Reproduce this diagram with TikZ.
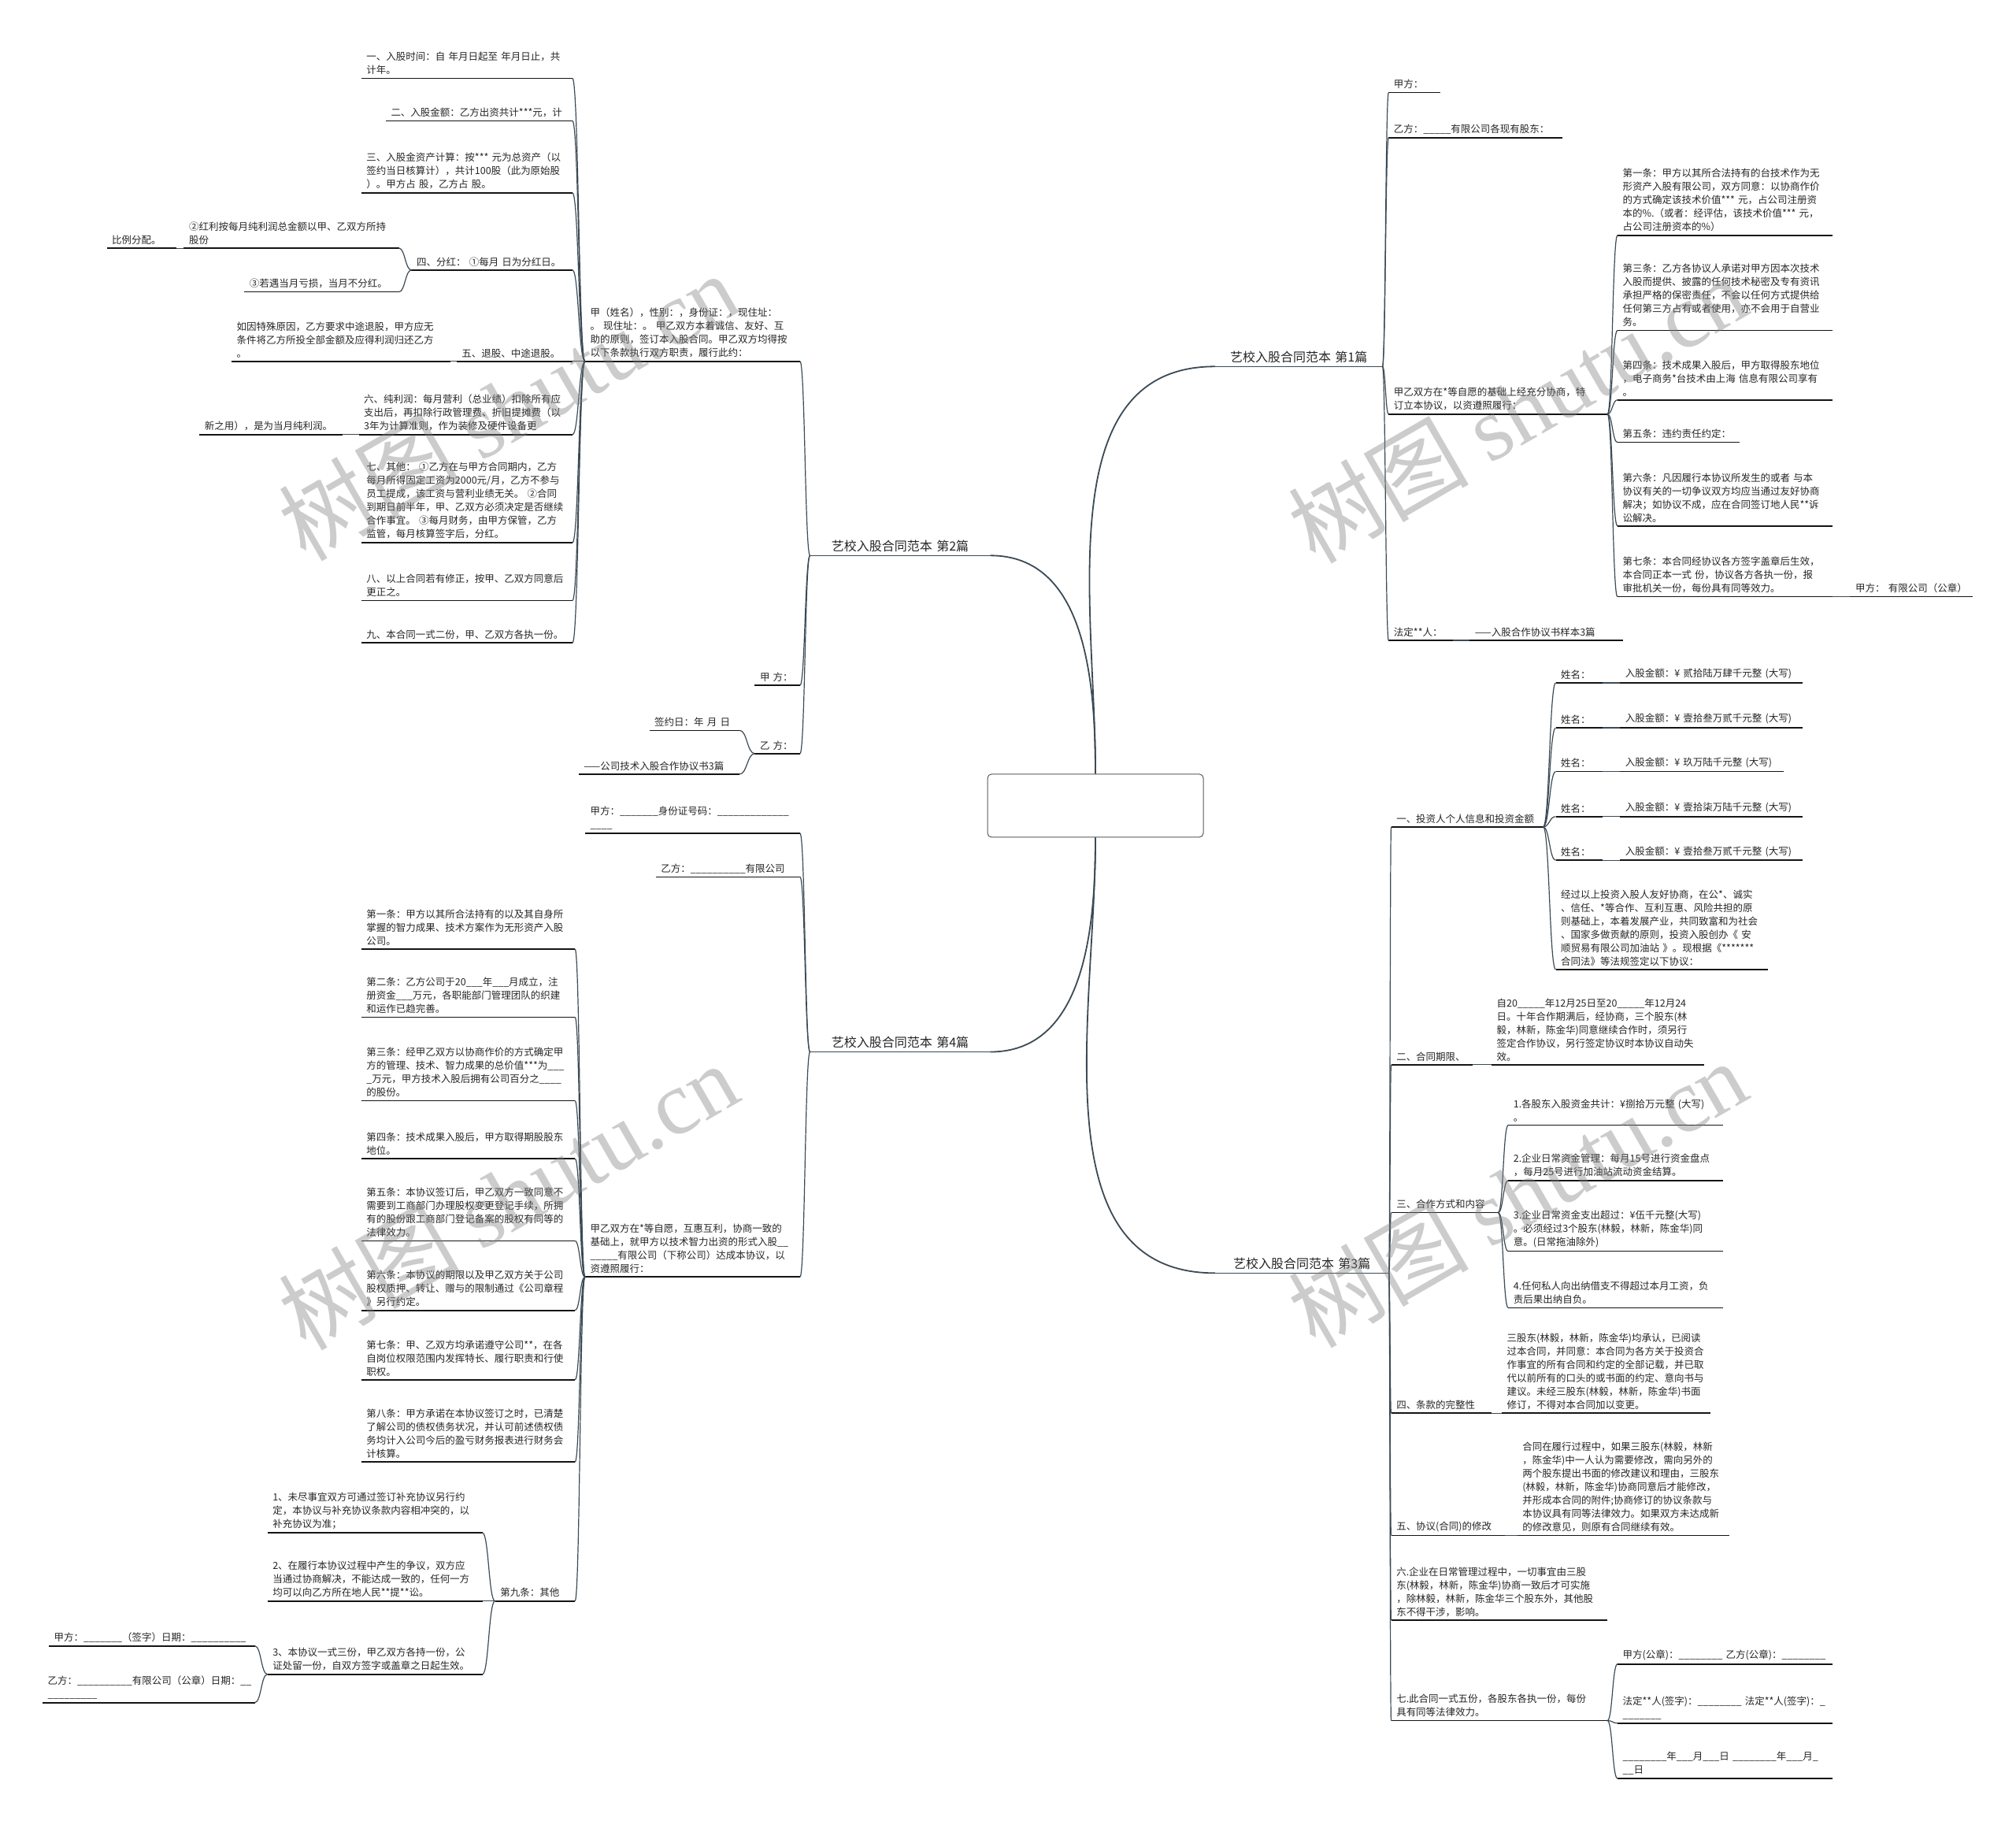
\documentclass[tikz,border=0pt]{standalone}
\usepackage{fontspec}
\setmainfont{Noto Sans CJK SC}
\newfontfamily\wmlatin{Liberation Serif}
\usepackage{xcolor}
\usetikzlibrary{calc}
\definecolor{ink}{HTML}{262626}
\definecolor{branch}{HTML}{3B4A55}
\definecolor{rulecol}{HTML}{141414}
\definecolor{boxline}{HTML}{5A5A5A}
\newcommand\leaffont{\fontsize{12.5pt}{17pt}\selectfont}
\newcommand\topicfont{\fontsize{16pt}{20pt}\selectfont}
\ExplSyntaxOn
\cs_new:Npn \blanks #1 {\prg_replicate:nn {#1} {\textunderscore}}
\ExplSyntaxOff

\begin{document}
\begin{tikzpicture}[
    x=1.633pt, y=-1.633pt,
    item/.style={
      font=\leaffont,
      text=ink,
      align=left,
      anchor=south west,
      inner xsep=6.5pt,
      inner ysep=4.5pt,
      /utils/exec={\pgfmathsetmacro\itemw{#1*1.633-13}},
      text width=\itemw pt
    },
    leaf/.style={item=#1,
      append after command={(\tikzlastnode.south west) edge[uline] (\tikzlastnode.south east)}},
    topic/.style={item=#1, font=\topicfont, align=center,
      append after command={(\tikzlastnode.south west) edge[tline] (\tikzlastnode.south east)}},
    uline/.style={draw=rulecol, line width=1.7pt},
    tline/.style={draw=branch, line width=1.1pt},
    link/.style={draw=branch, line width=1.2pt,
      to path={let \p1=(\tikztostart), \p2=(\tikztotarget) in
        .. controls ({(\x1+\x2)/2},\y1) and ({(\x1+\x2)/2},\y2) .. (\tikztotarget)}},
    trunk/.style={draw=branch, line width=1.8pt},
    rootbox/.style={draw=boxline, line width=1pt, fill=white, rounded corners=5pt,
      minimum width=274pt, minimum height=80pt},
    wmark/.style={text=gray, opacity=0.4, rotate=30, font=\fontsize{115pt}{115pt}\selectfont}
  ]
  \useasboundingbox (0,0) rectangle (1568,1416);
  \fill[white] (0,0) rectangle (1568,1416);

  \node[rootbox] (root) at (852,626.5) {};
  \node[topic=130] (b1) at (945,285) {艺校入股合同范本 第1篇};
  \node[topic=140] (b2) at (630,432) {艺校入股合同范本 第2篇};
  \node[topic=135] (b3) at (945,990) {艺校入股合同范本 第3篇};
  \node[topic=140] (b4) at (630,818) {艺校入股合同范本 第4篇};

  \node[leaf=167] (b2p) at (455,281) {甲（姓名），性别：，身份证：，现住址：\\。 现住址：。 甲乙双方本着诚信、友好、互\\助的原则，签订本入股合同。甲乙双方均得按\\以下条款执行双方职责，履行此约：};
  \node[leaf=35] (b2jia) at (587,533) {甲 方：};
  \node[leaf=35] (b2yi) at (587,586) {乙 方：};
  \node[leaf=70] (b2date) at (505,568) {签约日：年 月 日};
  \node[leaf=125] (b2more) at (450,602) {——公司技术入股合作协议书3篇};
  \node[leaf=164] (b2c1) at (281,61) {一、入股时间：自 年月日起至 年月日止，共\\计年。};
  \node[leaf=145] (b2c2) at (300,94) {二、入股金额：乙方出资共计***元，计};
  \node[leaf=164] (b2c3) at (281,150) {三、入股金资产计算：按*** 元为总资产（以\\签约当日核算计），共计100股（此为原始股\\）。甲方占 股，乙方占 股。};
  \node[leaf=125] (b2c4) at (320,210) {四、分红： ①每月 日为分红日。};
  \node[leaf=90] (b2c5) at (355,281) {五、退股、中途退股。};
  \node[leaf=166] (b2c6) at (279,338) {六、纯利润：每月营利（总业绩）扣除所有应\\支出后，再扣除行政管理费、折旧提摊费（以\\3年为计算准则，作为装修及硬件设备更};
  \node[leaf=164] (b2c7) at (281,422) {七、其他： ①乙方在与甲方合同期内，乙方\\每月所得固定工资为2000元/月，乙方不参与\\员工提成，该工资与营利业绩无关。 ②合同\\到期日前半年，甲、乙双方必须决定是否继续\\合作事宜。 ③每月财务，由甲方保管，乙方\\监管，每月核算签字后，分红。};
  \node[leaf=164] (b2c8) at (281,467) {八、以上合同若有修正，按甲、乙双方同意后\\更正之。};
  \node[leaf=164] (b2c9) at (281,500) {九、本合同一式二份，甲、乙双方各执一份。};
  \node[leaf=167] (b2c4a) at (143,193) {②红利按每月纯利润总金额以甲、乙双方所持\\股份};
  \node[leaf=54] (b2c4aa) at (83,193) {比例分配。};
  \node[leaf=120] (b2c4b) at (190,227) {③若遇当月亏损，当月不分红。};
  \node[leaf=170] (b2c5a) at (180,281) {如因特殊原因，乙方要求中途退股，甲方应无\\条件将乙方所投全部金额及应得利润归还乙方\\。};
  \node[leaf=111] (b2c6a) at (155,338) {新之用），是为当月纯利润。};

  \node[leaf=167] (b4jia) at (455,648) {甲方：\blanks{7}身份证号码：\blanks{13}\\\blanks{4}};
  \node[leaf=112] (b4yi) at (510,682) {乙方：\blanks{10}有限公司};
  \node[leaf=167] (b4p) at (455,993) {甲乙双方在*等自愿，互惠互利，协商一致的\\基础上，就甲方以技术智力出资的形式入股\blanks{2}\\\blanks{5}有限公司（下称公司）达成本协议，以\\资遵照履行：};
  \node[leaf=166] (b4c1) at (281,738) {第一条：甲方以其所合法持有的以及其自身所\\掌握的智力成果、技术方案作为无形资产入股\\公司。};
  \node[leaf=166] (b4c2) at (281,791) {第二条：乙方公司于20\blanks{3}年\blanks{3}月成立，注\\册资金\blanks{3}万元，各职能部门管理团队的织建\\和运作已趋完善。};
  \node[leaf=166] (b4c3) at (281,856) {第三条：经甲乙双方以协商作价的方式确定甲\\方的管理、技术、智力成果的总价值***为\blanks{3}\\\blanks{1}万元，甲方技术入股后拥有公司百分之\blanks{4}\\的股份。};
  \node[leaf=166] (b4c4) at (281,901) {第四条：技术成果入股后，甲方取得期股股东\\地位。};
  \node[leaf=166] (b4c5) at (281,965) {第五条：本协议签订后，甲乙双方一致同意不\\需要到工商部门办理股权变更登记手续，所拥\\有的股份跟工商部门登记备案的股权有同等的\\法律效力。};
  \node[leaf=166] (b4c6) at (281,1019) {第六条：本协议的期限以及甲乙双方关于公司\\股权质押、转让、赠与的限制通过《公司章程\\》另行约定。};
  \node[leaf=166] (b4c7) at (281,1073) {第七条：甲、乙双方均承诺遵守公司**，在各\\自岗位权限范围内发挥特长、履行职责和行使\\职权。};
  \node[leaf=166] (b4c8) at (281,1137) {第八条：甲方承诺在本协议签订之时，已清楚\\了解公司的债权债务状况，并认可前述债权债\\务均计入公司今后的盈亏财务报表进行财务会\\计核算。};
  \node[leaf=62] (b4c9) at (385,1245) {第九条：其他};
  \node[leaf=167] (b4c9a) at (208,1192) {1、未尽事宜双方可通过签订补充协议另行约\\定，本协议与补充协议条款内容相冲突的，以\\补充协议为准；};
  \node[leaf=167] (b4c9b) at (208,1245) {2、在履行本协议过程中产生的争议，双方应\\当通过协商解决，不能达成一致的，任何一方\\均可以向乙方所在地人民**提**讼。};
  \node[leaf=167] (b4c9c) at (208,1302) {3、本协议一式三份，甲乙双方各持一份，公\\证处留一份，自双方签字或盖章之日起生效。};
  \node[leaf=160] (b4sa) at (38,1280) {甲方：\blanks{7}（签字）日期：\blanks{10}};
  \node[leaf=165] (b4sb) at (33,1324) {乙方：\blanks{10}有限公司（公章）日期：\blanks{2}\\\blanks{9}};

  \node[leaf=40] (b1jia) at (1080,72) {甲方：};
  \node[leaf=135] (b1yi) at (1080,107) {乙方：\blanks{5}有限公司各现有股东：};
  \node[leaf=170] (b1p) at (1080,322) {甲乙双方在*等自愿的基础上经充分协商，特\\订立本协议，以资遵照履行：};
  \node[leaf=50] (b1fd) at (1080,498) {法定**人：};
  \node[leaf=119] (b1fda) at (1143,498) {——入股合作协议书样本3篇};
  \node[leaf=167] (b1c1) at (1258,183) {第一条：甲方以其所合法持有的台技术作为无\\形资产入股有限公司，双方同意：以协商作价\\的方式确定该技术价值*** 元，占公司注册资\\本的\%.（或者：经评估，该技术价值*** 元，\\占公司注册资本的\%）};
  \node[leaf=167] (b1c3) at (1258,257) {第三条：乙方各协议人承诺对甲方因本次技术\\入股而提供、披露的任何技术秘密及专有资讯\\承担严格的保密责任，不会以任何方式提供给\\任何第三方占有或者使用，亦不会用于自营业\\务。};
  \node[leaf=167] (b1c4) at (1258,311) {第四条：技术成果入股后，甲方取得股东地位\\，电子商务*台技术由上海 信息有限公司享有\\。};
  \node[leaf=95] (b1c5) at (1258,344) {第五条：违约责任约定：};
  \node[leaf=167] (b1c6) at (1258,409) {第六条：凡因履行本协议所发生的或者 与本\\协议有关的一切争议双方均应当通过友好协商\\解决；如协议不成，应在合同签订地人民**诉\\讼解决。};
  \node[leaf=167] (b1c7) at (1258,464) {第七条：本合同经协议各方签字盖章后生效，\\本合同正本一式 份，协议各方各执一份，报\\审批机关一份，每份具有同等效力。};
  \node[leaf=95] (b1c7a) at (1439,464) {甲方： 有限公司（公章）};

  \node[leaf=118] (b3s1) at (1082,643) {一、投资人个人信息和投资金额};
  \foreach \i/\y/\amt/\w in {1/531/贰拾陆万肆千元整/142, 2/566/壹拾叁万贰千元整/142,
      3/600/玖万陆千元整/127, 4/635/壹拾柒万陆千元整/142, 5/669/壹拾叁万贰千元整/142} {
    \node[leaf=36] (b3n\i) at (1210,\y) {姓名：};
    \node[leaf=\w] (b3m\i) at (1260,\y) {入股金额：¥ \amt{} (大写)};
  }
  \node[leaf=165] (b3s1p) at (1210,754) {经过以上投资入股人友好协商，在公*、诚实\\、信任、*等合作、互利互惠、风险共担的原\\则基础上，本着发展产业，共同致富和为社会\\、国家多做贡献的原则，投资入股创办《 安\\顺贸易有限公司加油站 》。现根据《*******\\合同法》等法规签定以下协议：};
  \node[leaf=63] (b3s2) at (1082,828) {二、合同期限、};
  \node[leaf=165] (b3s2a) at (1160,828) {自20\blanks{5}年12月25日至20\blanks{5}年12月24\\日。十年合作期满后，经协商，三个股东(林\\毅，林新，陈金华)同意继续合作时，须另行\\签定合作协议，另行签定协议时本协议自动失\\效。};
  \node[leaf=83] (b3s3) at (1082,943) {三、合作方式和内容};
  \node[leaf=167] (b3t1) at (1173,875) {1.各股东入股资金共计：¥捌拾万元整 (大写)\\。};
  \node[leaf=167] (b3t2) at (1173,918) {2.企业日常资金管理：每月15号进行资金盘点\\，每月25号进行加油站流动资金结算。};
  \node[leaf=167] (b3t3) at (1173,973) {3.企业日常资金支出超过：¥伍千元整(大写)\\。必须经过3个股东(林毅，林新，陈金华)同\\意。(日常拖油除外)};
  \node[leaf=167] (b3t4) at (1173,1017) {4.任何私人向出纳借支不得超过本月工资，负\\责后果出纳自负。};
  \node[leaf=78] (b3s4) at (1082,1099) {四、条款的完整性};
  \node[leaf=162] (b3s4a) at (1168,1099) {三股东(林毅，林新，陈金华)均承认，已阅读\\过本合同，并同意：本合同为各方关于投资合\\作事宜的所有合同和约定的全部记载，并已取\\代以前所有的口头的或书面的约定、意向书与\\建议。未经三股东(林毅，林新，陈金华)书面\\修订，不得对本合同加以变更。};
  \node[leaf=88] (b3s5) at (1082,1194) {五、协议(合同)的修改};
  \node[leaf=165] (b3s5a) at (1180,1194) {合同在履行过程中，如果三股东(林毅，林新\\，陈金华)中一人认为需要修改，需向另外的\\两个股东提出书面的修改建议和理由，三股东\\(林毅，林新，陈金华)协商同意后才能修改，\\并形成本合同的附件;协商修订的协议条款与\\本协议具有同等法律效力。如果双方未达成新\\的修改意见，则原有合同继续有效。};
  \node[leaf=168] (b3s6) at (1082,1260) {六.企业在日常管理过程中，一切事宜由三股\\东(林毅，林新，陈金华)协商一致后才可实施\\，除林毅，林新，陈金华三个股东外，其他股\\东不得干涉，影响。};
  \node[leaf=168] (b3s7) at (1082,1338) {七.此合同一式五份，各股东各执一份，每份\\具有同等法律效力。};
  \node[leaf=167] (b3u1) at (1258,1294) {甲方(公章)：\blanks{8} 乙方(公章)：\blanks{8}};
  \node[leaf=167] (b3u2) at (1258,1340) {法定**人(签字)：\blanks{8} 法定**人(签字)：\blanks{1}\\\blanks{7}};
  \node[leaf=167] (b3u3) at (1258,1383) {\blanks{8}年\blanks{3}月\blanks{3}日 \blanks{8}年\blanks{3}月\blanks{1}\\\blanks{2}日};

  \draw[trunk] (root.north) to[out=90,in=180] (b1.south west);
  \draw[trunk] (root.north) to[out=90,in=0] (b2.south east);
  \draw[trunk] (root.south) to[out=-90,in=180] (b3.south west);
  \draw[trunk] (root.south) to[out=-90,in=0] (b4.south east);

  \foreach \c in {b2p,b2jia,b2yi} \draw[link] (b2.south west) to (\c.south east);
  \foreach \i in {1,...,9} \draw[link] (b2p.south west) to (b2c\i.south east);
  \foreach \c in {b2c4a,b2c4b} \draw[link] (b2c4.south west) to (\c.south east);
  \draw[link] (b2c4a.south west) to (b2c4aa.south east);
  \draw[link] (b2c5.south west) to (b2c5a.south east);
  \draw[link] (b2c6.south west) to (b2c6a.south east);
  \foreach \c in {b2date,b2more} \draw[link] (b2yi.south west) to (\c.south east);

  \foreach \c in {b4jia,b4yi,b4p} \draw[link] (b4.south west) to (\c.south east);
  \foreach \i in {1,...,9} \draw[link] (b4p.south west) to (b4c\i.south east);
  \foreach \c in {b4c9a,b4c9b,b4c9c} \draw[link] (b4c9.south west) to (\c.south east);
  \foreach \c in {b4sa,b4sb} \draw[link] (b4c9c.south west) to (\c.south east);

  \foreach \c in {b1jia,b1yi,b1p,b1fd} \draw[link] (b1.south east) to (\c.south west);
  \foreach \c in {b1c1,b1c3,b1c4,b1c5,b1c6,b1c7} \draw[link] (b1p.south east) to (\c.south west);
  \draw[link] (b1c7.south east) to (b1c7a.south west);
  \draw[link] (b1fd.south east) to (b1fda.south west);

  \foreach \i in {1,...,7} \draw[link] (b3.south east) to (b3s\i.south west);
  \foreach \i in {1,...,5} {
    \draw[link] (b3s1.south east) to (b3n\i.south west);
    \draw[link] (b3n\i.south east) to (b3m\i.south west);
  }
  \draw[link] (b3s1.south east) to (b3s1p.south west);
  \draw[link] (b3s2.south east) to (b3s2a.south west);
  \foreach \i in {1,...,4} \draw[link] (b3s3.south east) to (b3t\i.south west);
  \draw[link] (b3s4.south east) to (b3s4a.south west);
  \draw[link] (b3s5.south east) to (b3s5a.south west);
  \foreach \i in {1,2,3} \draw[link] (b3s7.south east) to (b3u\i.south west);

  \node[wmark] (wmA) at (395,316) {树图 {\wmlatin shutu.cn}};
  \node[wmark] (wmB) at (395,930) {树图 {\wmlatin shutu.cn}};
  \node[wmark] (wmC) at (1180,318) {树图 {\wmlatin shutu.cn}};
  \node[wmark] (wmD) at (1180,928) {树图 {\wmlatin shutu.cn}};
\end{tikzpicture}
\end{document}
